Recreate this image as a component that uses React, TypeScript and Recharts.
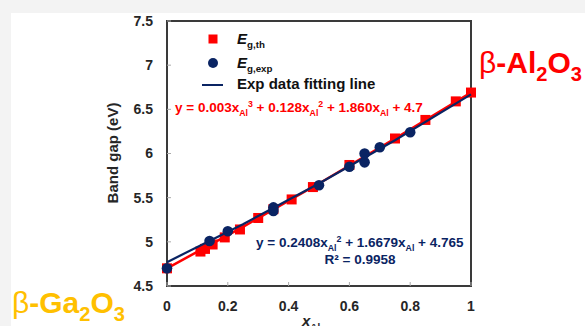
import React from 'react';
import { ComposedChart, Scatter, XAxis, YAxis, ReferenceArea } from 'recharts';

const xTicks = [0, 0.2, 0.4, 0.6, 0.8, 1];
const yTicks = [4.5, 5, 5.5, 6, 6.5, 7, 7.5];

const thX = [0, 0.11, 0.125, 0.15, 0.19, 0.24, 0.3, 0.35, 0.41, 0.48, 0.6, 0.75, 0.85, 0.95, 1.0];
const thY = [4.7, 4.89, 4.92, 4.97, 5.05, 5.14, 5.27, 5.37, 5.48, 5.62, 5.87, 6.17, 6.38, 6.59, 6.69];

const expX = [0, 0.14, 0.2, 0.35, 0.35, 0.5, 0.6, 0.65, 0.65, 0.7, 0.8];
const expY = [4.7, 5.01, 5.12, 5.35, 5.39, 5.64, 5.85, 5.9, 6.0, 6.07, 6.24];

const fitX = [0, 0.25, 0.5, 0.75, 1];
const fitThY = [4.7, 5.17, 5.66, 6.17, 6.69];
const fitExpY = [4.77, 5.2, 5.66, 6.15, 6.67];

const zip = (xs: number[], ys: number[]) => xs.map((x, i) => ({ x, y: ys[i] }));
const thData = zip(thX, thY);
const expData = zip(expX, expY);
const fitThData = zip(fitX, fitThY);
const fitExpData = zip(fitX, fitExpY);

const RED = '#FF0000';
const NAVY = '#0A2463';
const GOLD = '#FFC000';
const FONT = '"Liberation Sans", Arial, sans-serif';

const Y_MARGIN = 14;
const X_MARGIN = 15;

const YTick = (p: any) => (
  <g>
    <text x={p.x} y={p.y} dy="0.355em" textAnchor="end" fontFamily={FONT} fontWeight="bold" fontSize={14} fill="#262626">
      {String(p.payload.value)}
    </text>
    <line x1={p.x + Y_MARGIN} x2={p.x + Y_MARGIN + 4} y1={p.y} y2={p.y} stroke="#aaa" strokeWidth={1} />
  </g>
);

const XTick = (p: any) => (
  <g>
    <text x={p.x} y={p.y} dy="0.71em" textAnchor="middle" fontFamily={FONT} fontWeight="bold" fontSize={14} fill="#262626">
      {String(p.payload.value)}
    </text>
    <line x1={p.x} x2={p.x} y1={p.y - X_MARGIN} y2={p.y - X_MARGIN - 4} stroke="#aaa" strokeWidth={1} />
  </g>
);

const Square = (p: any) => <rect x={p.cx - 5} y={p.cy - 5} width={10} height={10} fill={RED} />;
const Dot = (p: any) => <circle cx={p.cx} cy={p.cy} r={5.3} fill={NAVY} />;
const NoShape = () => <g />;

type Seg = { t: string; s?: 'sub' | 'sup'; i?: boolean; n?: boolean };

const Rich = ({ x, y, segs, size, fill, anchor = 'start', subScale = 0.65, subOff = 0.28, supOff = 0.4 }: any) => {
  let cur = 0;
  return (
    <text x={x} y={y} textAnchor={anchor} fontFamily={FONT} fontWeight="bold" fontSize={size} fill={fill}>
      {(segs as Seg[]).map((sg, k) => {
        const target = sg.s === 'sub' ? subOff * size : sg.s === 'sup' ? -supOff * size : 0;
        const dy = target - cur;
        cur = target;
        return (
          <tspan
            key={k}
            dy={dy}
            fontSize={sg.s ? size * subScale : size}
            fontStyle={sg.i ? 'italic' : 'normal'}
            fontWeight={sg.n ? 'normal' : 'bold'}
          >
            {sg.t}
          </tspan>
        );
      })}
    </text>
  );
};

export default function App() {
  return (
    <div style={{ position: 'absolute', left: 0, top: 0, width: 585, height: 326, background: '#f3f3f3', overflow: 'hidden' }}>
      <div style={{ position: 'absolute', left: 11, top: 13, width: 574, height: 313, background: '#fff' }} />
      <div style={{ position: 'absolute', left: 0, top: 0 }}>
        <ComposedChart width={585} height={326} margin={{ top: 21, right: 114, bottom: 0, left: 107 }}>
          <XAxis
            type="number"
            dataKey="x"
            domain={[0, 1]}
            ticks={xTicks}
            height={40}
            axisLine={false}
            tickLine={false}
            tickSize={0}
            tickMargin={X_MARGIN}
            tick={<XTick />}
            interval={0}
          />
          <YAxis
            type="number"
            dataKey="y"
            domain={[4.5, 7.5]}
            ticks={yTicks}
            width={60}
            axisLine={false}
            tickLine={false}
            tickSize={0}
            tickMargin={Y_MARGIN}
            tick={<YTick />}
            interval={0}
          />
          <ReferenceArea x1={0} x2={1} y1={4.5} y2={7.5} fill="none" stroke="#3a3a3a" strokeWidth={2} ifOverflow="visible" />
          <Scatter data={thData} shape={<Square />} isAnimationActive={false} />
          <Scatter data={fitThData} shape={<NoShape />} line={{ stroke: RED, strokeWidth: 2.5 }} lineType="joint" isAnimationActive={false} />
          <Scatter data={expData} shape={<Dot />} isAnimationActive={false} />
          <Scatter data={fitExpData} shape={<NoShape />} line={{ stroke: NAVY, strokeWidth: 2.2 }} lineType="joint" isAnimationActive={false} />
        </ComposedChart>
      </div>
      <svg width={585} height={326} style={{ position: 'absolute', left: 0, top: 0, pointerEvents: 'none' }}>
        {/* legend */}
        <rect x={208.5} y={34.5} width={9} height={9} fill={RED} />
        <Rich x={237} y={44} size={15} fill="#111" segs={[{ t: 'E', i: true }, { t: 'g,th', s: 'sub' }]} />
        <circle cx={213} cy={63} r={5} fill={NAVY} />
        <Rich x={237} y={68} size={15} fill="#111" segs={[{ t: 'E', i: true }, { t: 'g,exp', s: 'sub' }]} />
        <line x1={202} x2={223} y1={85} y2={85} stroke={NAVY} strokeWidth={2} />
        <Rich x={237} y={89} size={15} fill="#111" segs={[{ t: 'Exp data fitting line' }]} />
        {/* equations */}
        <Rich
          x={175}
          y={112}
          size={13.5}
          fill={RED}
          segs={[
            { t: 'y = 0.003x' }, { t: 'Al', s: 'sub' }, { t: '3', s: 'sup' },
            { t: ' + 0.128x' }, { t: 'Al', s: 'sub' }, { t: '2', s: 'sup' },
            { t: ' + 1.860x' }, { t: 'Al', s: 'sub' }, { t: ' + 4.7' },
          ]}
        />
        <Rich
          x={256}
          y={247}
          size={13.5}
          fill={NAVY}
          segs={[
            { t: 'y = 0.2408x' }, { t: 'Al', s: 'sub' }, { t: '2', s: 'sup' },
            { t: ' + 1.6679x' }, { t: 'Al', s: 'sub' }, { t: ' + 4.765' },
          ]}
        />
        <Rich x={360} y={264} size={13.5} fill={NAVY} anchor="middle" segs={[{ t: 'R² = 0.9958' }]} />
        {/* axis labels */}
        <text x={113} y={153} transform="rotate(-90 113 153)" dy="0.35em" textAnchor="middle" fontFamily={FONT} fontWeight="bold" fontSize={15} fill="#262626">
          Band gap (eV)
        </text>
        <Rich x={302} y={326} size={15} fill="#262626" segs={[{ t: 'x', i: true }, { t: 'Al', s: 'sub' }]} />
        {/* material labels */}
        <Rich x={479} y={73} size={30} fill={RED} subScale={0.67} subOff={0.28} segs={[{ t: 'β', n: true }, { t: '-Al' }, { t: '2', s: 'sub' }, { t: 'O' }, { t: '3', s: 'sub' }]} />
        <Rich x={12} y={313} size={30} fill={GOLD} subScale={0.67} subOff={0.28} segs={[{ t: 'β', n: true }, { t: '-Ga' }, { t: '2', s: 'sub' }, { t: 'O' }, { t: '3', s: 'sub' }]} />
      </svg>
    </div>
  );
}
